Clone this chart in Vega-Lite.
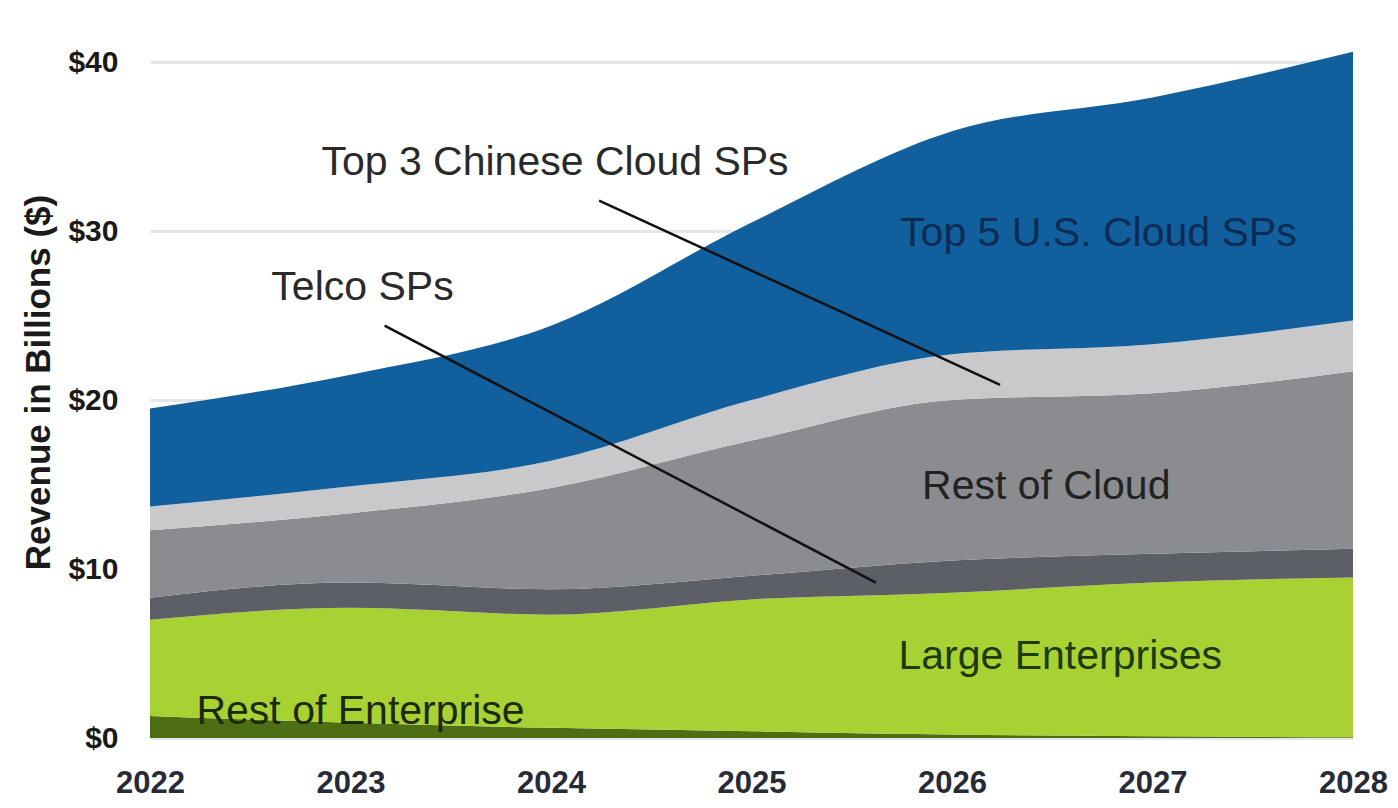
{
  "$schema": "https://vega.github.io/schema/vega-lite/v6.json",
  "autosize": "none",
  "width": 1203,
  "height": 676,
  "padding": {"left": 150, "top": 62, "right": 45, "bottom": 70},
  "background": "white",
  "config": {
    "view": {"stroke": null},
    "font": "Liberation Sans"
  },
  "datasets": {
    "rev": [
      {"year": 2022, "segment": "Rest of Enterprise", "ord": 1, "value": 1.3},
      {"year": 2023, "segment": "Rest of Enterprise", "ord": 1, "value": 0.9},
      {"year": 2024, "segment": "Rest of Enterprise", "ord": 1, "value": 0.6},
      {"year": 2025, "segment": "Rest of Enterprise", "ord": 1, "value": 0.4},
      {"year": 2026, "segment": "Rest of Enterprise", "ord": 1, "value": 0.2},
      {"year": 2027, "segment": "Rest of Enterprise", "ord": 1, "value": 0.1},
      {"year": 2028, "segment": "Rest of Enterprise", "ord": 1, "value": 0.05},
      {"year": 2022, "segment": "Large Enterprises", "ord": 2, "value": 5.7},
      {"year": 2023, "segment": "Large Enterprises", "ord": 2, "value": 6.8},
      {"year": 2024, "segment": "Large Enterprises", "ord": 2, "value": 6.7},
      {"year": 2025, "segment": "Large Enterprises", "ord": 2, "value": 7.8},
      {"year": 2026, "segment": "Large Enterprises", "ord": 2, "value": 8.4},
      {"year": 2027, "segment": "Large Enterprises", "ord": 2, "value": 9.1},
      {"year": 2028, "segment": "Large Enterprises", "ord": 2, "value": 9.45},
      {"year": 2022, "segment": "Telco SPs", "ord": 3, "value": 1.3},
      {"year": 2023, "segment": "Telco SPs", "ord": 3, "value": 1.5},
      {"year": 2024, "segment": "Telco SPs", "ord": 3, "value": 1.5},
      {"year": 2025, "segment": "Telco SPs", "ord": 3, "value": 1.4},
      {"year": 2026, "segment": "Telco SPs", "ord": 3, "value": 1.9},
      {"year": 2027, "segment": "Telco SPs", "ord": 3, "value": 1.7},
      {"year": 2028, "segment": "Telco SPs", "ord": 3, "value": 1.7},
      {"year": 2022, "segment": "Rest of Cloud", "ord": 4, "value": 4.0},
      {"year": 2023, "segment": "Rest of Cloud", "ord": 4, "value": 4.1},
      {"year": 2024, "segment": "Rest of Cloud", "ord": 4, "value": 6.0},
      {"year": 2025, "segment": "Rest of Cloud", "ord": 4, "value": 8.0},
      {"year": 2026, "segment": "Rest of Cloud", "ord": 4, "value": 9.5},
      {"year": 2027, "segment": "Rest of Cloud", "ord": 4, "value": 9.5},
      {"year": 2028, "segment": "Rest of Cloud", "ord": 4, "value": 10.5},
      {"year": 2022, "segment": "Top 3 Chinese Cloud SPs", "ord": 5, "value": 1.4},
      {"year": 2023, "segment": "Top 3 Chinese Cloud SPs", "ord": 5, "value": 1.6},
      {"year": 2024, "segment": "Top 3 Chinese Cloud SPs", "ord": 5, "value": 1.6},
      {"year": 2025, "segment": "Top 3 Chinese Cloud SPs", "ord": 5, "value": 2.4},
      {"year": 2026, "segment": "Top 3 Chinese Cloud SPs", "ord": 5, "value": 2.7},
      {"year": 2027, "segment": "Top 3 Chinese Cloud SPs", "ord": 5, "value": 2.9},
      {"year": 2028, "segment": "Top 3 Chinese Cloud SPs", "ord": 5, "value": 3.0},
      {"year": 2022, "segment": "Top 5 U.S. Cloud SPs", "ord": 6, "value": 5.8},
      {"year": 2023, "segment": "Top 5 U.S. Cloud SPs", "ord": 6, "value": 6.6},
      {"year": 2024, "segment": "Top 5 U.S. Cloud SPs", "ord": 6, "value": 8.0},
      {"year": 2025, "segment": "Top 5 U.S. Cloud SPs", "ord": 6, "value": 10.5},
      {"year": 2026, "segment": "Top 5 U.S. Cloud SPs", "ord": 6, "value": 13.2},
      {"year": 2027, "segment": "Top 5 U.S. Cloud SPs", "ord": 6, "value": 14.6},
      {"year": 2028, "segment": "Top 5 U.S. Cloud SPs", "ord": 6, "value": 15.9}
    ],
    "pointers": [
      {"name": "Top 3 Chinese Cloud SPs", "x1": 2024.24, "y1": 31.8, "x2": 2026.24, "y2": 20.9},
      {"name": "Telco SPs", "x1": 2023.17, "y1": 24.4, "x2": 2025.62, "y2": 9.2}
    ],
    "labels": [
      {"label": "Top 3 Chinese Cloud SPs", "year": 2024.02, "value": 34.0},
      {"label": "Top 5 U.S. Cloud SPs", "year": 2026.73, "value": 29.8},
      {"label": "Telco SPs", "year": 2023.06, "value": 26.6},
      {"label": "Rest of Cloud", "year": 2026.47, "value": 14.85},
      {"label": "Large Enterprises", "year": 2026.54, "value": 4.8},
      {"label": "Rest of Enterprise", "year": 2023.05, "value": 1.55}
    ]
  },
  "layer": [
    {
      "data": {"name": "rev"},
      "mark": {"type": "area", "interpolate": "monotone"},
      "encoding": {
        "x": {
          "field": "year", "type": "quantitative",
          "scale": {"domain": [2022, 2028], "nice": false, "zero": false},
          "axis": {
            "values": [2022, 2023, 2024, 2025, 2026, 2027, 2028],
            "format": "d", "title": null, "grid": false, "domain": false, "ticks": false,
            "labelFontSize": 31, "labelFontWeight": "bold", "labelColor": "#262b36",
            "labelPadding": 30, "labelFlush": false
          }
        },
        "y": {
          "field": "value", "type": "quantitative", "stack": "zero",
          "scale": {"domain": [0, 40], "nice": false},
          "axis": {
            "values": [0, 10, 20, 30, 40],
            "labelExpr": "'$' + datum.value",
            "title": "Revenue in Billions ($)",
            "titleFontSize": 35, "titleFontWeight": "bold", "titleColor": "#1a1a1a",
            "titlePadding": 11, "titleY": 320,
            "labelFontSize": 30, "labelFontWeight": "bold", "labelColor": "#1a1a1a",
            "labelPadding": 32,
            "domain": false, "ticks": false,
            "grid": true, "gridColor": "#e4e6ea", "gridWidth": 3
          }
        },
        "color": {
          "field": "segment", "type": "nominal",
          "scale": {
            "domain": ["Rest of Enterprise", "Large Enterprises", "Telco SPs", "Rest of Cloud", "Top 3 Chinese Cloud SPs", "Top 5 U.S. Cloud SPs"],
            "range": ["#4d6e12", "#a8d234", "#5d5f66", "#8b8c90", "#c9c9cb", "#115f9c"]
          },
          "legend": null
        },
        "order": {"field": "ord", "type": "quantitative"}
      }
    },
    {
      "data": {"name": "pointers"},
      "mark": {"type": "rule", "color": "#111111", "strokeWidth": 2.5},
      "encoding": {
        "x": {"field": "x1", "type": "quantitative"},
        "y": {"field": "y1", "type": "quantitative"},
        "x2": {"field": "x2"},
        "y2": {"field": "y2"}
      }
    },
    {
      "data": {"name": "labels"},
      "mark": {"type": "text", "fontSize": 41, "align": "center", "baseline": "middle", "font": "Liberation Sans"},
      "encoding": {
        "x": {"field": "year", "type": "quantitative"},
        "y": {"field": "value", "type": "quantitative"},
        "text": {"field": "label"},
        "color": {
          "field": "label", "type": "nominal",
          "scale": {
            "domain": ["Top 3 Chinese Cloud SPs", "Top 5 U.S. Cloud SPs", "Telco SPs", "Rest of Cloud", "Large Enterprises", "Rest of Enterprise"],
            "range": ["#2a2a2a", "#0b2c55", "#2a2a2a", "#222222", "#1e3a0c", "#1c2a0a"]
          },
          "legend": null
        }
      }
    }
  ],
  "resolve": {"scale": {"color": "independent"}}
}
